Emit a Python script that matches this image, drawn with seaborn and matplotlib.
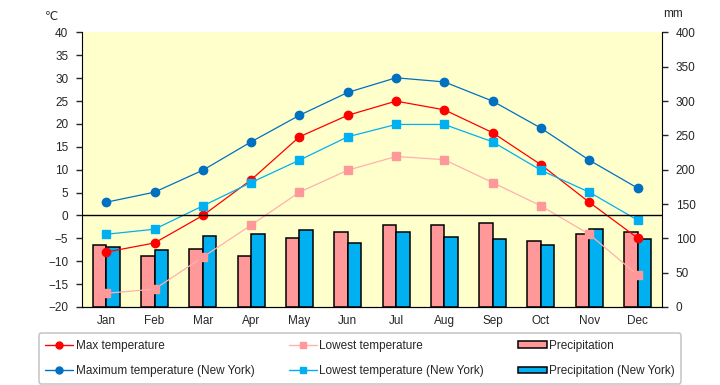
import matplotlib
matplotlib.use("Agg")
import matplotlib.pyplot as plt
import seaborn as sns
import pandas as pd
import numpy as np
from matplotlib.lines import Line2D
from matplotlib.patches import Patch

# Data
months = ["Jan", "Feb", "Mar", "Apr", "May", "Jun", "Jul", "Aug", "Sep", "Oct", "Nov", "Dec"]
max_temp = [-8.0, -6.0, 0.0, 7.8, 17.2, 21.9, 25.0, 23.1, 18.1, 11.1, 2.9, -4.9]
low_temp = [-17.0, -16.1, -9.1, -2.1, 5.1, 9.9, 12.9, 12.2, 7.2, 2.1, -4.1, -13.0]
max_temp_ny = [2.9, 5.1, 9.9, 16.1, 21.9, 26.9, 30.1, 29.2, 25.0, 19.1, 12.1, 6.0]
low_temp_ny = [-4.1, -3.0, 2.1, 7.2, 12.1, 17.2, 19.9, 19.9, 16.1, 9.9, 5.1, -1.0]
precip = [90, 74, 84, 75, 100, 110, 119, 119, 123, 96, 106, 109]
precip_ny = [87, 83, 103, 107, 112, 93, 110, 102, 99, 90, 113, 99]

# Colours
red = "#FF0000"
pink = "#FF9999"
navy = "#0070C0"
cyan = "#00B0F0"
bg = "#FFFFCC"

sns.set_style("white")
plt.rcParams["font.family"] = ["Liberation Sans", "DejaVu Sans"]
font_size = 8.5

idx = np.arange(len(months))
bars = pd.DataFrame({
    "month": months * 2,
    "mm": precip + precip_ny,
    "series": ["Precipitation"] * 12 + ["Precipitation (New York)"] * 12,
})

fig = plt.figure(figsize=(7.2, 3.85), dpi=100)
ax = fig.add_axes([0.114, 0.2026, 0.805, 0.713])
ax2 = ax.twinx()

# bars on the mm axis (drawn underneath)
sns.barplot(data=bars, x="month", y="mm", hue="series", palette=[pink, cyan],
            saturation=1, edgecolor="black", linewidth=1.1, width=0.56, dodge=True,
            legend=False, ax=ax2)
ax2.set_ylim(0, 400)
ax2.set_yticks(range(0, 401, 50))
ax2.set_ylabel("")
ax2.set_xlabel("")
ax2.patch.set_visible(True)
ax2.patch.set_facecolor(bg)

ax.set_zorder(ax2.get_zorder() + 1)
ax.patch.set_visible(False)

# temperature lines
series = [
    (max_temp, red, red, "o"),
    (low_temp, "#FFB0B0", pink, "s"),
    (max_temp_ny, navy, navy, "o"),
    (low_temp_ny, cyan, cyan, "s"),
]
for vals, lc, mc, mk in series:
    sns.lineplot(x=idx, y=vals, color=lc, linewidth=0.9, ax=ax)
    ax.plot(idx, vals, linestyle="none", marker=mk, markersize=6,
            markerfacecolor=mc, markeredgecolor=mc)

ax.axhline(0, color="black", linewidth=1)
ax.set_ylim(-20, 40)
ax.set_yticks(range(-20, 41, 5))
ax.set_xlim(-0.5, 11.5)
ax.set_xticks(idx)
ax.set_xticklabels(months)

for a in (ax, ax2):
    a.spines["top"].set_visible(False)
    a.spines["left"].set_color("black")
    a.spines["right"].set_color("black")
    a.spines["bottom"].set_color("black")
ax.spines["right"].set_visible(False)
ax2.spines["left"].set_visible(False)

ax.tick_params(axis="y", direction="out", length=4, width=1, labelsize=font_size,
               left=True, pad=6)
ax.tick_params(axis="x", length=0, labelsize=font_size, pad=6)
ax2.tick_params(axis="y", direction="out", length=4, width=1, labelsize=font_size,
                right=True, pad=6)
ax2.tick_params(axis="x", length=0)

fig.text(0.072, 0.955, "℃", fontsize=font_size, ha="center", va="center")
fig.text(0.935, 0.963, "mm", fontsize=font_size, ha="center", va="center")

# legend
handles = [
    Line2D([], [], color=red, marker="o", markersize=5, linewidth=1),
    Line2D([], [], color=navy, marker="o", markersize=5, linewidth=1),
    Line2D([], [], color="#FFB0B0", marker="s", markersize=5, markerfacecolor=pink,
           markeredgecolor=pink, linewidth=1),
    Line2D([], [], color=cyan, marker="s", markersize=5, linewidth=1),
    Patch(facecolor=pink, edgecolor="black", linewidth=1.1),
    Patch(facecolor=cyan, edgecolor="black", linewidth=1.1),
]
labels = ["Max temperature", "Maximum temperature (New York)",
          "Lowest temperature", "Lowest temperature (New York)",
          "Precipitation", "Precipitation (New York)"]
leg = fig.legend(handles, labels, ncol=3, loc="center", bbox_to_anchor=(0.5, 0.069),
                 fontsize=font_size, frameon=True, fancybox=True, edgecolor="#BBBBBB",
                 handlelength=2.4, handletextpad=0.2, columnspacing=2.9,
                 labelspacing=1.15, borderpad=0.55, handleheight=0.5)
leg.get_frame().set_linewidth(1.2)

fig.savefig("out.png", dpi=100)
